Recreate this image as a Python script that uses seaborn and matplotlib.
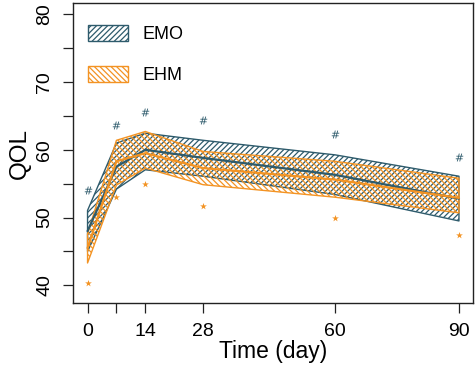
import numpy as np
import pandas as pd
import matplotlib
matplotlib.use("Agg")
import matplotlib.pyplot as plt
from matplotlib.patches import Patch
import seaborn as sns

# ---- data ----
days = [0, 7, 14, 28, 60, 90]
emo_mean = [48.0, 57.5, 60.0, 58.8, 56.3, 52.8]
emo_low = [45.0, 54.2, 57.05, 56.1, 53.4, 49.5]
emo_high = [51.05, 61.0, 62.45, 61.4, 59.25, 56.1]
ehm_mean = [45.5, 58.3, 59.5, 57.3, 55.6, 52.9]
ehm_low = [43.3, 54.8, 57.3, 54.85, 53.0, 50.7]
ehm_high = [47.6, 61.4, 62.7, 59.75, 58.3, 55.8]
emo_sig = [54.0, 63.6, 65.6, 64.4, 62.3, 59.0]   # '#' markers
ehm_sig = [40.35, 53.1, 55.0, 51.7, 49.9, 47.4]  # '*' markers
groups = ["EMO", "EHM"]
xtick_vals = [0, 7, 14, 28, 60, 90]
xtick_labels = ["0", "", "14", "28", "60", "90"]
ytick_major = [40, 50, 60, 70, 80]
ytick_all = [40, 45, 50, 55, 60, 65, 70, 75, 80]

TEAL = "#2E5B6C"
ORANGE = "#F39323"
palette = {"EMO": TEAL, "EHM": ORANGE}

sns.set_theme(style="white")
plt.rcParams["font.family"] = ["Liberation Sans", "DejaVu Sans"]
plt.rcParams["hatch.linewidth"] = 0.9
plt.rcParams["text.color"] = "black"
plt.rcParams["axes.labelcolor"] = "black"
plt.rcParams["xtick.color"] = "black"
plt.rcParams["ytick.color"] = "black"

df = pd.DataFrame({
    "day": days * 2,
    "QOL": emo_mean + ehm_mean,
    "group": ["EMO"] * len(days) + ["EHM"] * len(days),
})

fig = plt.figure(figsize=(4.77, 3.77), dpi=100)
ax = fig.add_axes([0.1524, 0.1955, 0.8392, 0.7973])

bands = {"EMO": (emo_low, emo_high, "//////"), "EHM": (ehm_low, ehm_high, "\\\\\\\\\\\\")}
for g in groups:
    lo, hi, h = bands[g]
    ax.fill_between(days, lo, hi, facecolor="none", edgecolor=palette[g],
                    hatch=h, linewidth=1.0)

sns.lineplot(data=df, x="day", y="QOL", hue="group", palette=palette,
             linewidth=1.6, ax=ax, legend=False)

sns.scatterplot(x=days, y=emo_sig, marker="$\\#$", color=TEAL, s=32,
                linewidth=0, ax=ax)
sns.scatterplot(x=days, y=ehm_sig, marker="*", color=ORANGE, s=26,
                linewidth=0, ax=ax)

ax.set_xlim(-3.6, 93.4)
ax.set_ylim(37.35, 81.7)
ax.set_xticks(xtick_vals)
ax.set_xticklabels(xtick_labels, fontsize=14)
ax.set_yticks(ytick_all)
ax.set_yticklabels([str(v) if v in ytick_major else "" for v in ytick_all],
                   fontsize=14, rotation=90, va="center")
ax.tick_params(axis="both", direction="out", length=7, width=0.9,
               color="#222222", bottom=True, left=True, pad=7)
for s in ax.spines.values():
    s.set_visible(True)
    s.set_color("#222222")
    s.set_linewidth(1.0)
ax.set_xlabel("Time (day)", fontsize=16.5, labelpad=0)
ax.set_ylabel("QOL", fontsize=17.5, labelpad=4)

handles = [Patch(facecolor="none", edgecolor=palette[g], hatch=bands[g][2],
                 linewidth=1.0, label=g) for g in groups]
ax.legend(handles=handles, loc="upper left", frameon=False, fontsize=13,
          handlelength=2.2, handleheight=1.0, labelspacing=1.25,
          handletextpad=0.85, borderaxespad=0.0, bbox_to_anchor=(0.02, 0.95))

fig.savefig("out.png", dpi=100)
